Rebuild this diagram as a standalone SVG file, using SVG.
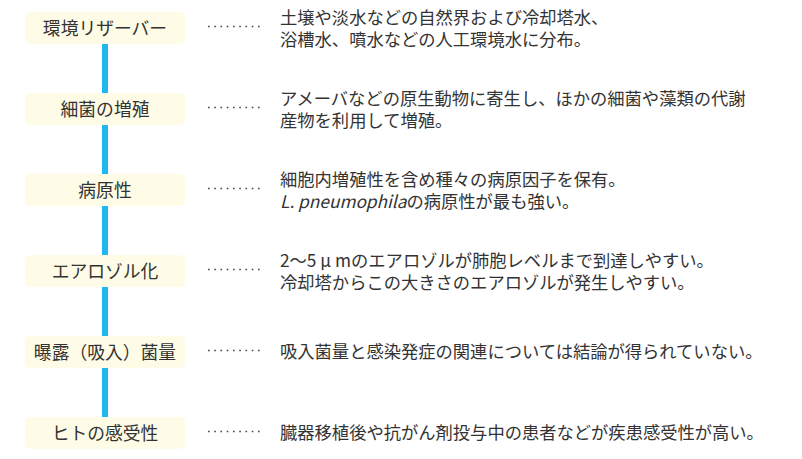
<svg xmlns="http://www.w3.org/2000/svg" width="802" height="459" viewBox="0 0 802 459">
<style>
.box{fill:#FEFCE6;}
.lbl{font-family:"Noto Sans CJK JP","Noto Sans",sans-serif;font-size:17.8px;fill:#333;text-anchor:middle;}
.txt{font-family:"Noto Sans CJK JP","Noto Sans",sans-serif;font-size:17.3px;fill:#333;}
.dots{stroke:#444;stroke-width:1.6;stroke-dasharray:1.6 4.65;fill:none;}
.link{stroke:#1EB8EE;stroke-width:6;fill:none;}
</style>
<rect width="802" height="459" fill="#fff"/>
<g id="connectors">
<line class="link" x1="105" y1="44" x2="105" y2="93"/>
<line class="link" x1="105" y1="125" x2="105" y2="174"/>
<line class="link" x1="105" y1="206" x2="105" y2="255"/>
<line class="link" x1="105" y1="287" x2="105" y2="336"/>
<line class="link" x1="105" y1="368" x2="105" y2="417"/>
</g>
<g id="n1">
<rect class="box" x="25" y="12" width="160" height="32" rx="5"/>
<text class="lbl" x="105" y="34.5">環境リザーバー</text>
<line class="dots" x1="208" y1="26.5" x2="260" y2="26.5"/>
<text class="txt" x="280" y="24.2">土壌や淡水などの自然界および冷却塔水、</text>
<text class="txt" x="280" y="45.8">浴槽水、噴水などの人工環境水に分布。</text>
</g>
<g id="n2">
<rect class="box" x="25" y="93" width="160" height="32" rx="5"/>
<text class="lbl" x="105" y="115.5">細菌の増殖</text>
<line class="dots" x1="208" y1="107.5" x2="260" y2="107.5"/>
<text class="txt" x="280" y="105.2">アメーバなどの原生動物に寄生し、ほかの細菌や藻類の代謝</text>
<text class="txt" x="280" y="126.8">産物を利用して増殖。</text>
</g>
<g id="n3">
<rect class="box" x="25" y="174" width="160" height="32" rx="5"/>
<text class="lbl" x="105" y="196.5">病原性</text>
<line class="dots" x1="208" y1="188.5" x2="260" y2="188.5"/>
<text class="txt" x="280" y="186.2">細胞内増殖性を含め種々の病原因子を保有。</text>
<text class="txt" x="280" y="207.8"><tspan font-style="italic">L. pneumophila</tspan>の病原性が最も強い。</text>
</g>
<g id="n4">
<rect class="box" x="25" y="255" width="160" height="32" rx="5"/>
<text class="lbl" x="105" y="277.5">エアロゾル化</text>
<line class="dots" x1="208" y1="269.5" x2="260" y2="269.5"/>
<text class="txt" x="280" y="267.2">2～5 μ mのエアロゾルが肺胞レベルまで到達しやすい。</text>
<text class="txt" x="280" y="288.8">冷却塔からこの大きさのエアロゾルが発生しやすい。</text>
</g>
<g id="n5">
<rect class="box" x="25" y="336" width="160" height="32" rx="5"/>
<text class="lbl" x="105" y="358.5">曝露（吸入）菌量</text>
<line class="dots" x1="208" y1="350.5" x2="260" y2="350.5"/>
<text class="txt" x="280" y="358">吸入菌量と感染発症の関連については結論が得られていない。</text>
</g>
<g id="n6">
<rect class="box" x="25" y="417" width="160" height="32" rx="5"/>
<text class="lbl" x="105" y="439.5">ヒトの感受性</text>
<line class="dots" x1="208" y1="431.5" x2="260" y2="431.5"/>
<text class="txt" x="280" y="439">臓器移植後や抗がん剤投与中の患者などが疾患感受性が高い。</text>
</g>
</svg>
